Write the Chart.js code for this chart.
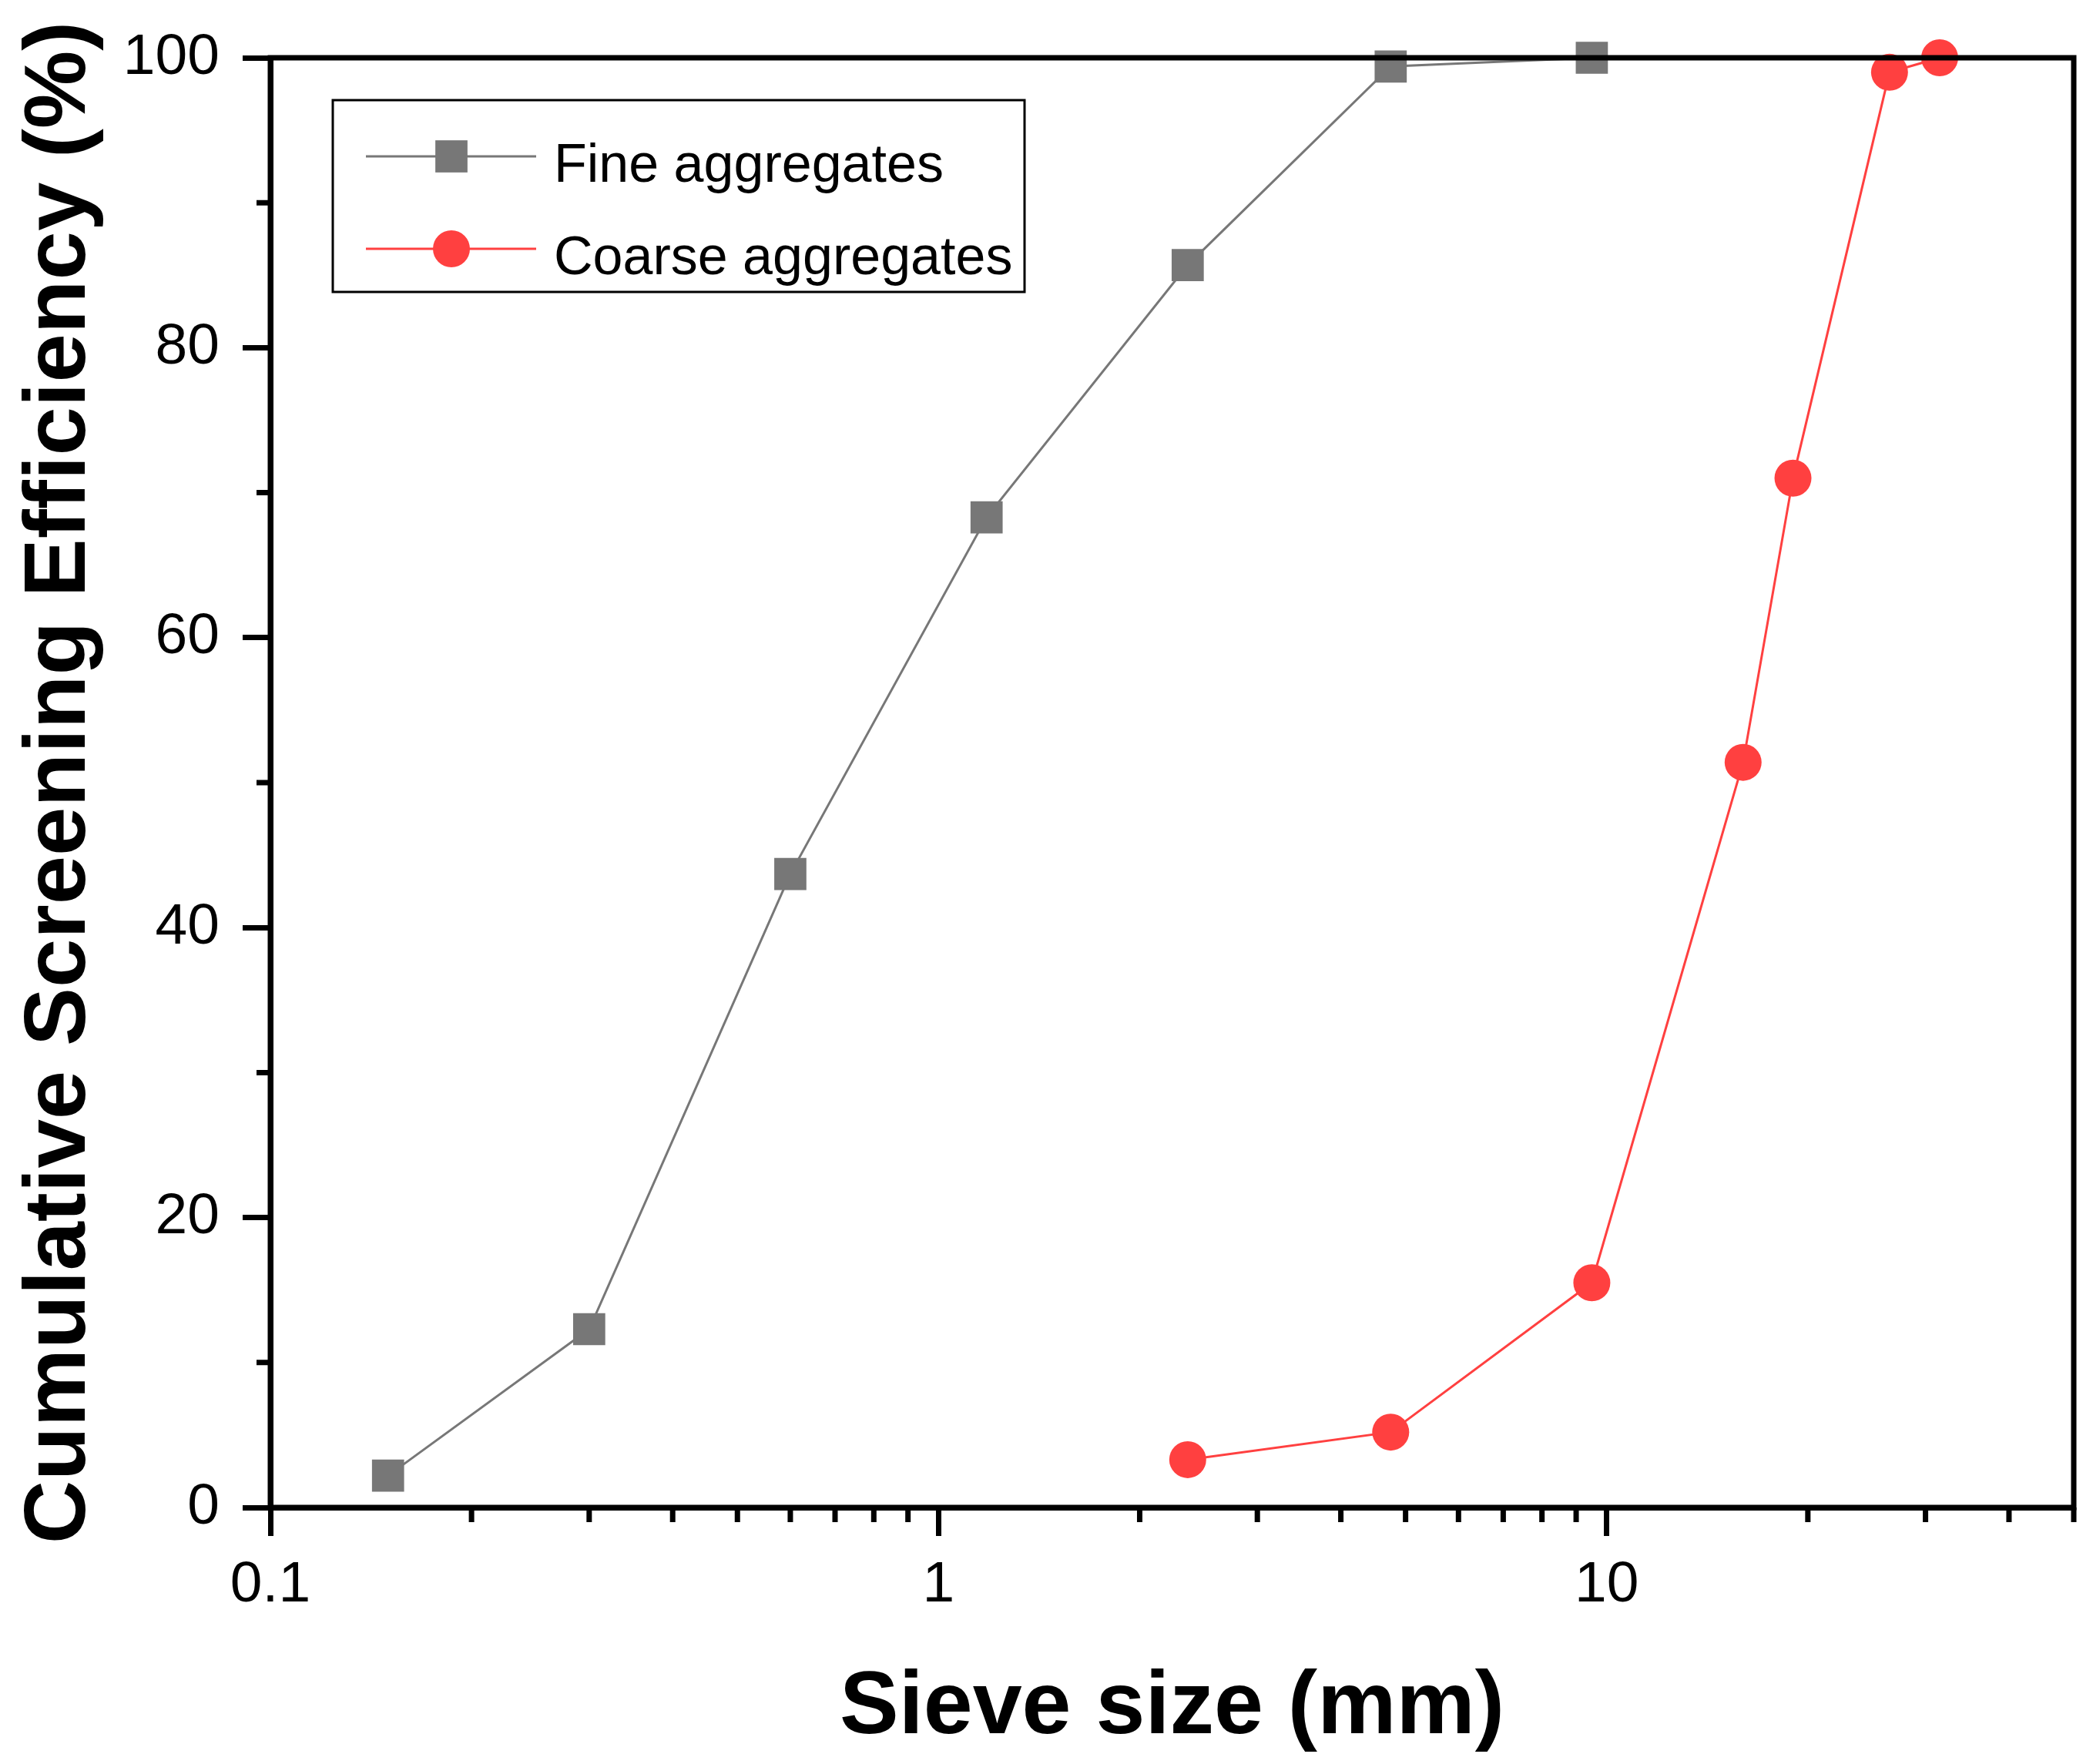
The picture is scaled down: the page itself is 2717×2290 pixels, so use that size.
<!DOCTYPE html>
<html>
<head>
<meta charset="utf-8">
<script src="https://cdn.jsdelivr.net/npm/chart.js@4.4.1/dist/chart.umd.min.js"></script>
<style>
  html, body { margin: 0; padding: 0; background: #fff; }
  #wrap { width: 2717px; height: 2290px; }
</style>
</head>
<body>
<div id="wrap"><canvas id="chart" width="2717" height="2290"></canvas></div>
<script>
// sieve sizes (mm) and cumulative passing (%)
const fineSizes = [0.15, 0.3, 0.6, 1.18, 2.36, 4.75, 9.5];
const fineValues = [2.2, 12.3, 43.7, 68.3, 85.7, 99.4, 100];
const coarseSizes = [2.36, 4.75, 9.5, 16, 19, 26.5, 31.5];
const coarseValues = [3.3, 5.2, 15.5, 51.4, 71.0, 99.0, 100];

const seriesNames = ['Fine aggregates', 'Coarse aggregates'];
const xMajorTicks = [0.1, 1, 10];
const xMinorTicks = [0.2, 0.3, 0.4, 0.5, 0.6, 0.7, 0.8, 0.9, 2, 3, 4, 5, 6, 7, 8, 9, 20, 30, 40, 50];
const yMinorTicks = [10, 30, 50, 70, 90];

const GRAY = '#777777';
const RED = '#FF4040';
const FONT = 'Arial, "Liberation Sans", sans-serif';
const AXIS_W = 7;

// frame, minor ticks and the legend box inside the plot
const frameAndLegend = {
  id: 'frameAndLegend',
  afterDatasetsDraw(chart) {
    const { ctx, chartArea: a, scales } = chart;
    ctx.save();
    ctx.strokeStyle = '#000';
    ctx.lineWidth = AXIS_W;
    ctx.beginPath();
    xMinorTicks.forEach(v => {
      const px = scales.x.getPixelForValue(v);
      ctx.moveTo(px, a.bottom);
      ctx.lineTo(px, a.bottom + 19);
    });
    yMinorTicks.forEach(v => {
      const py = scales.y.getPixelForValue(v);
      ctx.moveTo(a.left, py);
      ctx.lineTo(a.left - 18, py);
    });
    ctx.stroke();
    ctx.strokeRect(a.left, a.top, a.right - a.left, a.bottom - a.top);

    // legend
    const bx = a.left + 81, by = a.top + 55;
    ctx.lineWidth = 3;
    ctx.strokeRect(bx, by, 898, 249);
    chart.data.datasets.forEach((ds, i) => {
      const y = a.top + 128 + i * 120;
      ctx.strokeStyle = ds.borderColor;
      ctx.lineWidth = 3;
      ctx.beginPath();
      ctx.moveTo(a.left + 124, y);
      ctx.lineTo(a.left + 345, y);
      ctx.stroke();
      ctx.fillStyle = ds.pointBackgroundColor;
      const mx = a.left + 235;
      if (ds.pointStyle === 'rect') {
        const s = ds.pointRadius * Math.SQRT1_2;
        ctx.fillRect(mx - s, y - s, 2 * s, 2 * s);
      } else {
        ctx.beginPath();
        ctx.arc(mx, y, ds.pointRadius, 0, Math.PI * 2);
        ctx.fill();
      }
      ctx.fillStyle = '#000';
      ctx.font = '70px ' + FONT;
      ctx.textAlign = 'left';
      ctx.textBaseline = 'middle';
      ctx.fillText(ds.label, a.left + 368, y + 14);
    });
    ctx.restore();
  }
};

new Chart(document.getElementById('chart'), {
  type: 'line',
  data: {
    datasets: [
      {
        label: seriesNames[0],
        data: fineSizes.map((x, i) => ({ x: x, y: fineValues[i] })),
        borderColor: GRAY,
        borderWidth: 3,
        pointStyle: 'rect',
        pointRadius: 29.5,
        pointBackgroundColor: GRAY,
        pointBorderWidth: 0,
        tension: 0,
        clip: false
      },
      {
        label: seriesNames[1],
        data: coarseSizes.map((x, i) => ({ x: x, y: coarseValues[i] })),
        borderColor: RED,
        borderWidth: 3,
        pointStyle: 'circle',
        pointRadius: 24,
        pointBackgroundColor: RED,
        pointBorderWidth: 0,
        tension: 0,
        clip: false
      }
    ]
  },
  options: {
    responsive: false,
    animation: false,
    devicePixelRatio: 1,
    layout: { autoPadding: false, padding: { top: 74, right: 25, left: 0, bottom: 0 } },
    plugins: { legend: { display: false }, tooltip: { enabled: false } },
    scales: {
      x: {
        type: 'logarithmic',
        min: 0.1,
        max: 50,
        afterBuildTicks: s => { s.ticks = xMajorTicks.map(v => ({ value: v, major: true })); },
        afterFit: s => { s.height = 333; s.paddingRight = 0; },
        border: { display: true, color: '#000', width: AXIS_W },
        grid: { display: true, drawOnChartArea: false, drawTicks: true, tickLength: 37, tickWidth: AXIS_W, tickColor: '#000' },
        ticks: {
          autoSkip: false,
          maxRotation: 0,
          padding: 19,
          color: '#000',
          font: { family: FONT, size: 75 },
          callback: v => String(v)
        },
        title: {
          display: true,
          text: 'Sieve size (mm)',
          color: '#000',
          font: { family: FONT, size: 115, weight: 'bold' },
          padding: { top: 0, bottom: 3 }
        }
      },
      y: {
        type: 'linear',
        min: 0,
        max: 100,
        afterFit: s => { s.width = 351; },
        border: { display: true, color: '#000', width: AXIS_W },
        grid: { display: true, drawOnChartArea: false, drawTicks: true, tickLength: 36, tickWidth: AXIS_W, tickColor: '#000' },
        ticks: {
          stepSize: 20,
          padding: 30,
          color: '#000',
          font: { family: FONT, size: 75 }
        },
        title: {
          display: true,
          text: 'Cumulative Screening Efficiency (%)',
          color: '#000',
          font: { family: FONT, size: 114, weight: 'bold' },
          padding: { top: 10, bottom: 0 }
        }
      }
    }
  },
  plugins: [frameAndLegend]
});
</script>
</body>
</html>
